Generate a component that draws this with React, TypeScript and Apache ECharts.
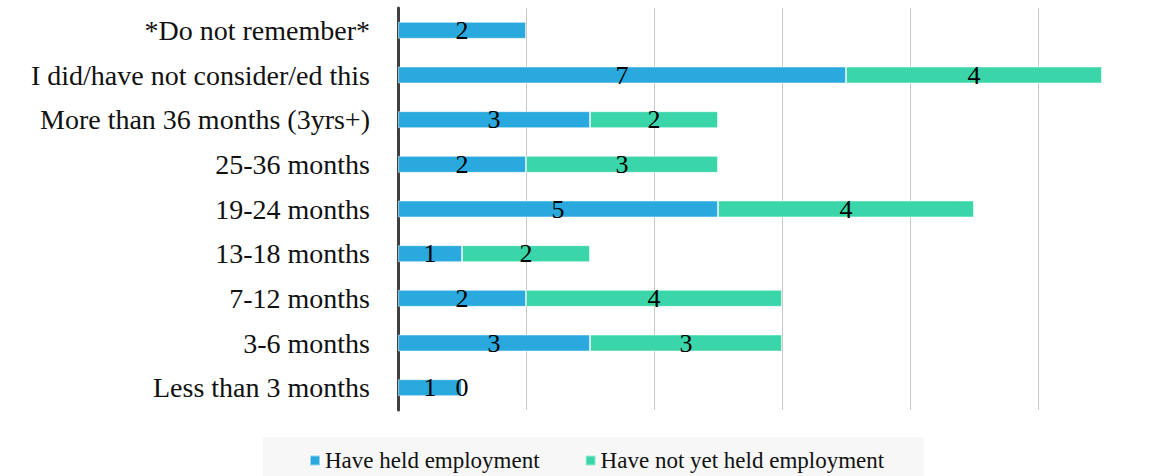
import React, { useEffect, useRef } from "react";
import * as echarts from "echarts";

const categories = [
  "Less than 3 months",
  "3-6 months",
  "7-12 months",
  "13-18 months",
  "19-24 months",
  "25-36 months",
  "More than 36 months (3yrs+)",
  "I did/have not consider/ed this",
  "*Do not remember*",
];
const heldValues: (number | null)[] = [1, 3, 2, 1, 5, 2, 3, 7, 2];
const notYetValues: (number | null)[] = [0, 3, 4, 2, 4, 3, 2, 4, null];
const seriesNames = ["Have held employment", "Have not yet held employment"];

const FONT = "'Liberation Serif', 'DejaVu Serif', serif";

export default function App() {
  const ref = useRef<HTMLDivElement>(null);
  useEffect(() => {
    if (!ref.current) return;
    const chart = echarts.init(ref.current, undefined, { renderer: "svg" });
    const label = {
      show: true,
      position: "inside" as const,
      color: "#000",
      fontFamily: FONT,
      fontSize: 26,
    };
    chart.setOption({
      animation: false,
      textStyle: { fontFamily: FONT },
      grid: { left: 398, top: 8, right: 0, height: 402, containLabel: false },
      xAxis: {
        type: "value",
        min: 0,
        max: 11.86,
        interval: 2,
        axisLabel: { show: false },
        axisLine: { show: false },
        axisTick: { show: false },
        splitLine: { show: true, showMaxLine: false, lineStyle: { color: "#c8c8c8", width: 1 } },
      },
      yAxis: {
        type: "category",
        data: categories,
        axisLine: { show: true, lineStyle: { color: "#404040", width: 3 } },
        axisTick: { show: false },
        axisLabel: { color: "#111", fontFamily: FONT, fontSize: 28, margin: 28 },
      },
      legend: {
        top: 437,
        left: 263,
        itemWidth: 10,
        itemHeight: 10,
        itemGap: 45,
        icon: "rect",
        backgroundColor: "#f7f7f7",
        padding: [12, 40, 20, 46],
        textStyle: { fontFamily: FONT, fontSize: 23, color: "#111" },
        data: seriesNames,
      },
      series: [
        {
          name: seriesNames[0],
          type: "bar",
          stack: "total",
          barWidth: "38%",
          data: heldValues,
          itemStyle: { color: "#29a9de", borderColor: "rgba(255,255,255,0.5)", borderWidth: 1 },
          label,
        },
        {
          name: seriesNames[1],
          type: "bar",
          stack: "total",
          barWidth: "38%",
          data: notYetValues,
          itemStyle: { color: "#3ad6aa", borderColor: "rgba(255,255,255,0.5)", borderWidth: 1 },
          label,
        },
      ],
    });
    return () => chart.dispose();
  }, []);
  return (
    <div
      ref={ref}
      style={{ position: "fixed", left: 0, top: 0, width: 1157, height: 476, background: "#fff" }}
    />
  );
}
